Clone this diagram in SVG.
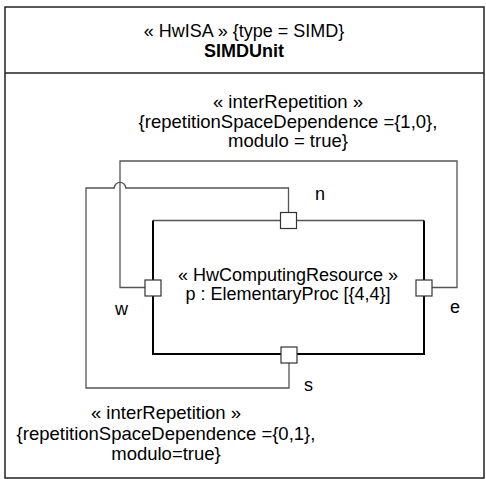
<svg xmlns="http://www.w3.org/2000/svg" width="486" height="479" viewBox="0 0 486 479">
<style>
text{font-family:"Liberation Sans",Arial,sans-serif;font-size:18px;fill:#000}
.c{text-anchor:middle}
.b{font-weight:bold}
.a{font-size:18.5px}
.conn{fill:none;stroke:#555;stroke-width:1.3}
.edge{fill:none;stroke:#000;stroke-width:2}
.port{fill:#fff;stroke:#333;stroke-width:1.2}
</style>
<rect width="486" height="479" fill="#fff"/>
<g id="SIMDUnit">
<rect x="5" y="7" width="479" height="471" fill="none" stroke="#222" stroke-width="1.5"/>
<line x1="5" y1="73" x2="484" y2="73" stroke="#222" stroke-width="1.5"/>
<text class="c" x="244" y="37">« HwISA » {type = SIMD}</text>
<text class="c b" x="244" y="57">SIMDUnit</text>
</g>
<g id="connectors">
<path class="conn" d="M145,287.5 H120 V161 H457 V287.5 H432"/>
<path class="conn" d="M288.5,212 V188 H125.7 A5.7,5.7 0 0 0 114.3,188 H86 V388 H289 V363"/>
</g>
<g id="p">
<line x1="153" y1="220.5" x2="424" y2="220.5" stroke="#555" stroke-width="1.3"/>
<path class="edge" d="M153,220.5 V354 H424 V220.5"/>
<text class="c" x="288" y="281">« HwComputingResource »</text>
<text class="c" x="288" y="300">p : ElementaryProc [{4,4}]</text>
</g>
<g id="port-n"><rect class="port" x="280.5" y="212.5" width="16" height="16"/><text x="315" y="200">n</text></g>
<g id="port-w"><rect class="port" x="145" y="280" width="16" height="16"/><text x="115" y="315">w</text></g>
<g id="port-e"><rect class="port" x="416" y="280" width="16" height="16"/><text x="450" y="313">e</text></g>
<g id="port-s"><rect class="port" x="281" y="347" width="16" height="16"/><text x="304" y="391">s</text></g>
<g id="label-top">
<text class="c a" x="288" y="108">« interRepetition »</text>
<text class="c a" x="288" y="128">{repetitionSpaceDependence ={1,0},</text>
<text class="c a" x="288" y="147">modulo = true}</text>
</g>
<g id="label-bottom">
<text class="c a" x="166" y="419">« interRepetition »</text>
<text class="c a" x="166" y="440">{repetitionSpaceDependence ={0,1},</text>
<text class="c a" x="166" y="460">modulo=true}</text>
</g>
</svg>
